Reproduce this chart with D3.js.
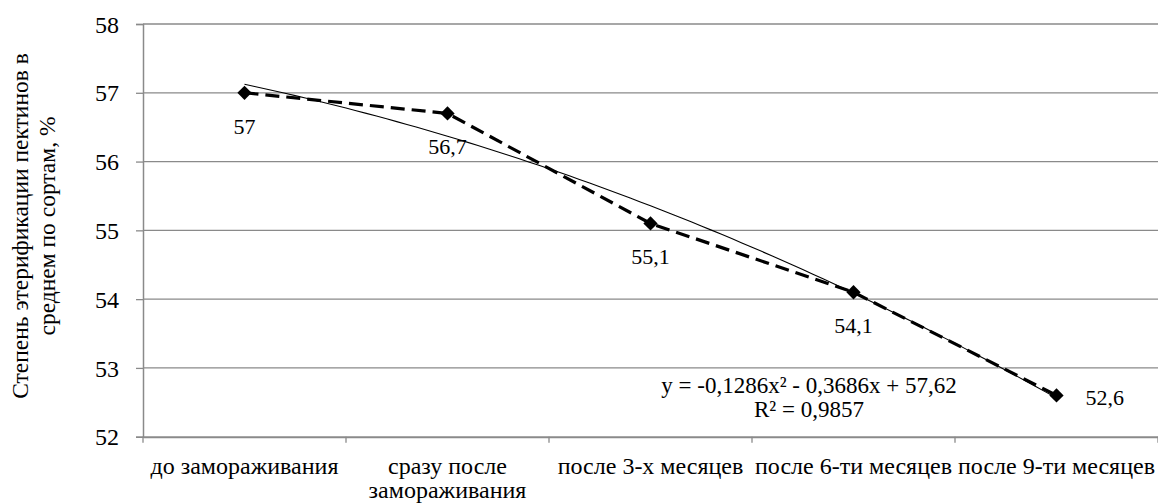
<!DOCTYPE html>
<html><head><meta charset="utf-8">
<script src="https://cdn.jsdelivr.net/npm/d3@7"></script>
<style>body{margin:0;background:#fff}svg{display:block}</style>
</head><body><svg id="c" width="1158" height="504" font-family="Liberation Serif"></svg>
<script>
const categories = [["до замораживания"],["сразу после","замораживания"],["после 3-х месяцев"],["после 6-ти месяцев"],["после 9-ти месяцев"]];
const values = [57, 56.7, 55.1, 54.1, 52.6];
const labels = ["57","56,7","55,1","54,1","52,6"];
const yTicks = [52,53,54,55,56,57,58];
const trendCoef = [-0.1286, -0.3686, 57.62]; // a x^2 + b x + c
const trendText = ["y = -0,1286x² - 0,3686x + 57,62", "R² = 0,9857"];
const yTitle = ["Степень этерификации пектинов в", "среднем по сортам, %"];

const svg = d3.select("#c");
const F = "Liberation Serif";
const L = 143, R = 1158, T = 24, B = 436.7;
const x = d3.scaleBand().domain(d3.range(categories.length)).range([L, R]);
const xc = i => x(i) + x.bandwidth()/2;
const y = d3.scaleLinear().domain([52,58]).range([B, T]);
const grid = "#8a8a8a";

svg.append("g").selectAll("line").data(yTicks.filter(d=>d>52)).join("line")
  .attr("x1", L).attr("x2", R).attr("y1", d=>y(d)).attr("y2", d=>y(d))
  .attr("stroke", grid).attr("stroke-width", 1.3);

const ya = svg.append("g").attr("transform", `translate(${L},0)`)
  .call(d3.axisLeft(y).tickValues(yTicks).tickSize(7).tickPadding(17).tickFormat(d3.format("d")));
ya.attr("font-family", F).attr("font-size", 24);
ya.select(".domain").attr("stroke", grid).attr("stroke-width", 1.5);
ya.selectAll(".tick line").attr("stroke", grid).attr("stroke-width", 1.3);
ya.selectAll("text").attr("fill", "#000").attr("dy", "0.34em");

const xa = svg.append("g").attr("transform", `translate(0,${B})`)
  .call(d3.axisBottom(x).tickSize(0).tickFormat(""));
xa.select(".domain").attr("stroke", grid).attr("stroke-width", 2);
svg.append("g").selectAll("line").data(d3.range(categories.length+1)).join("line")
  .attr("x1", i => i < categories.length ? x(i) : R).attr("x2", i => i < categories.length ? x(i) : R)
  .attr("y1", B).attr("y2", B+6).attr("stroke", grid).attr("stroke-width", 1.3);

const xl = svg.append("g").attr("font-size", 24).selectAll("text").data(categories).join("text")
  .attr("x", (d,i)=>xc(i)).attr("y", 474).attr("text-anchor","middle");
xl.selectAll("tspan").data(d=>d).join("tspan")
  .attr("x", function(){return d3.select(this.parentNode).attr("x");})
  .attr("dy", (d,i)=> i? 24 : 0).text(d=>d);

const yt = svg.append("text").attr("transform", "translate(28,226) rotate(-90)")
  .attr("text-anchor","middle").attr("font-size", 23.5);
yt.selectAll("tspan").data(yTitle).join("tspan").attr("x",0).attr("dy",(d,i)=>i?27:0).text(d=>d);

const xi = d3.scaleLinear().domain([1, categories.length]).range([xc(0), xc(categories.length-1)]);
const ts = d3.range(1, categories.length + 0.001, 0.05);
svg.append("path").datum(ts)
  .attr("d", d3.line().x(t=>xi(t)).y(t=>y(trendCoef[0]*t*t + trendCoef[1]*t + trendCoef[2])))
  .attr("fill","none").attr("stroke","#000").attr("stroke-width",1.1);

svg.append("path").datum(values)
  .attr("d", d3.line().x((d,i)=>xc(i)).y(d=>y(d)))
  .attr("fill","none").attr("stroke","#000").attr("stroke-width",3.2).attr("stroke-dasharray","14,7");

svg.append("g").selectAll("path").data(values).join("path")
  .attr("transform",(d,i)=>`translate(${xc(i)},${y(d)})`)
  .attr("d", d3.symbol(d3.symbolDiamond2, 130)()).attr("fill","#000");

svg.append("g").attr("font-size", 22).selectAll("text").data(values).join("text")
  .attr("x",(d,i)=> i===values.length-1 ? xc(i)+29 : xc(i))
  .attr("y",(d,i)=> i===values.length-1 ? y(d)+10 : y(d)+41)
  .attr("text-anchor",(d,i)=> i===values.length-1 ? "start":"middle")
  .text((d,i)=>labels[i]);

svg.append("g").attr("font-size", 23).selectAll("text").data(trendText).join("text")
  .attr("x", 809).attr("y",(d,i)=>393 + i*24).attr("text-anchor","middle")
  .text(d=>d);
</script></body></html>
